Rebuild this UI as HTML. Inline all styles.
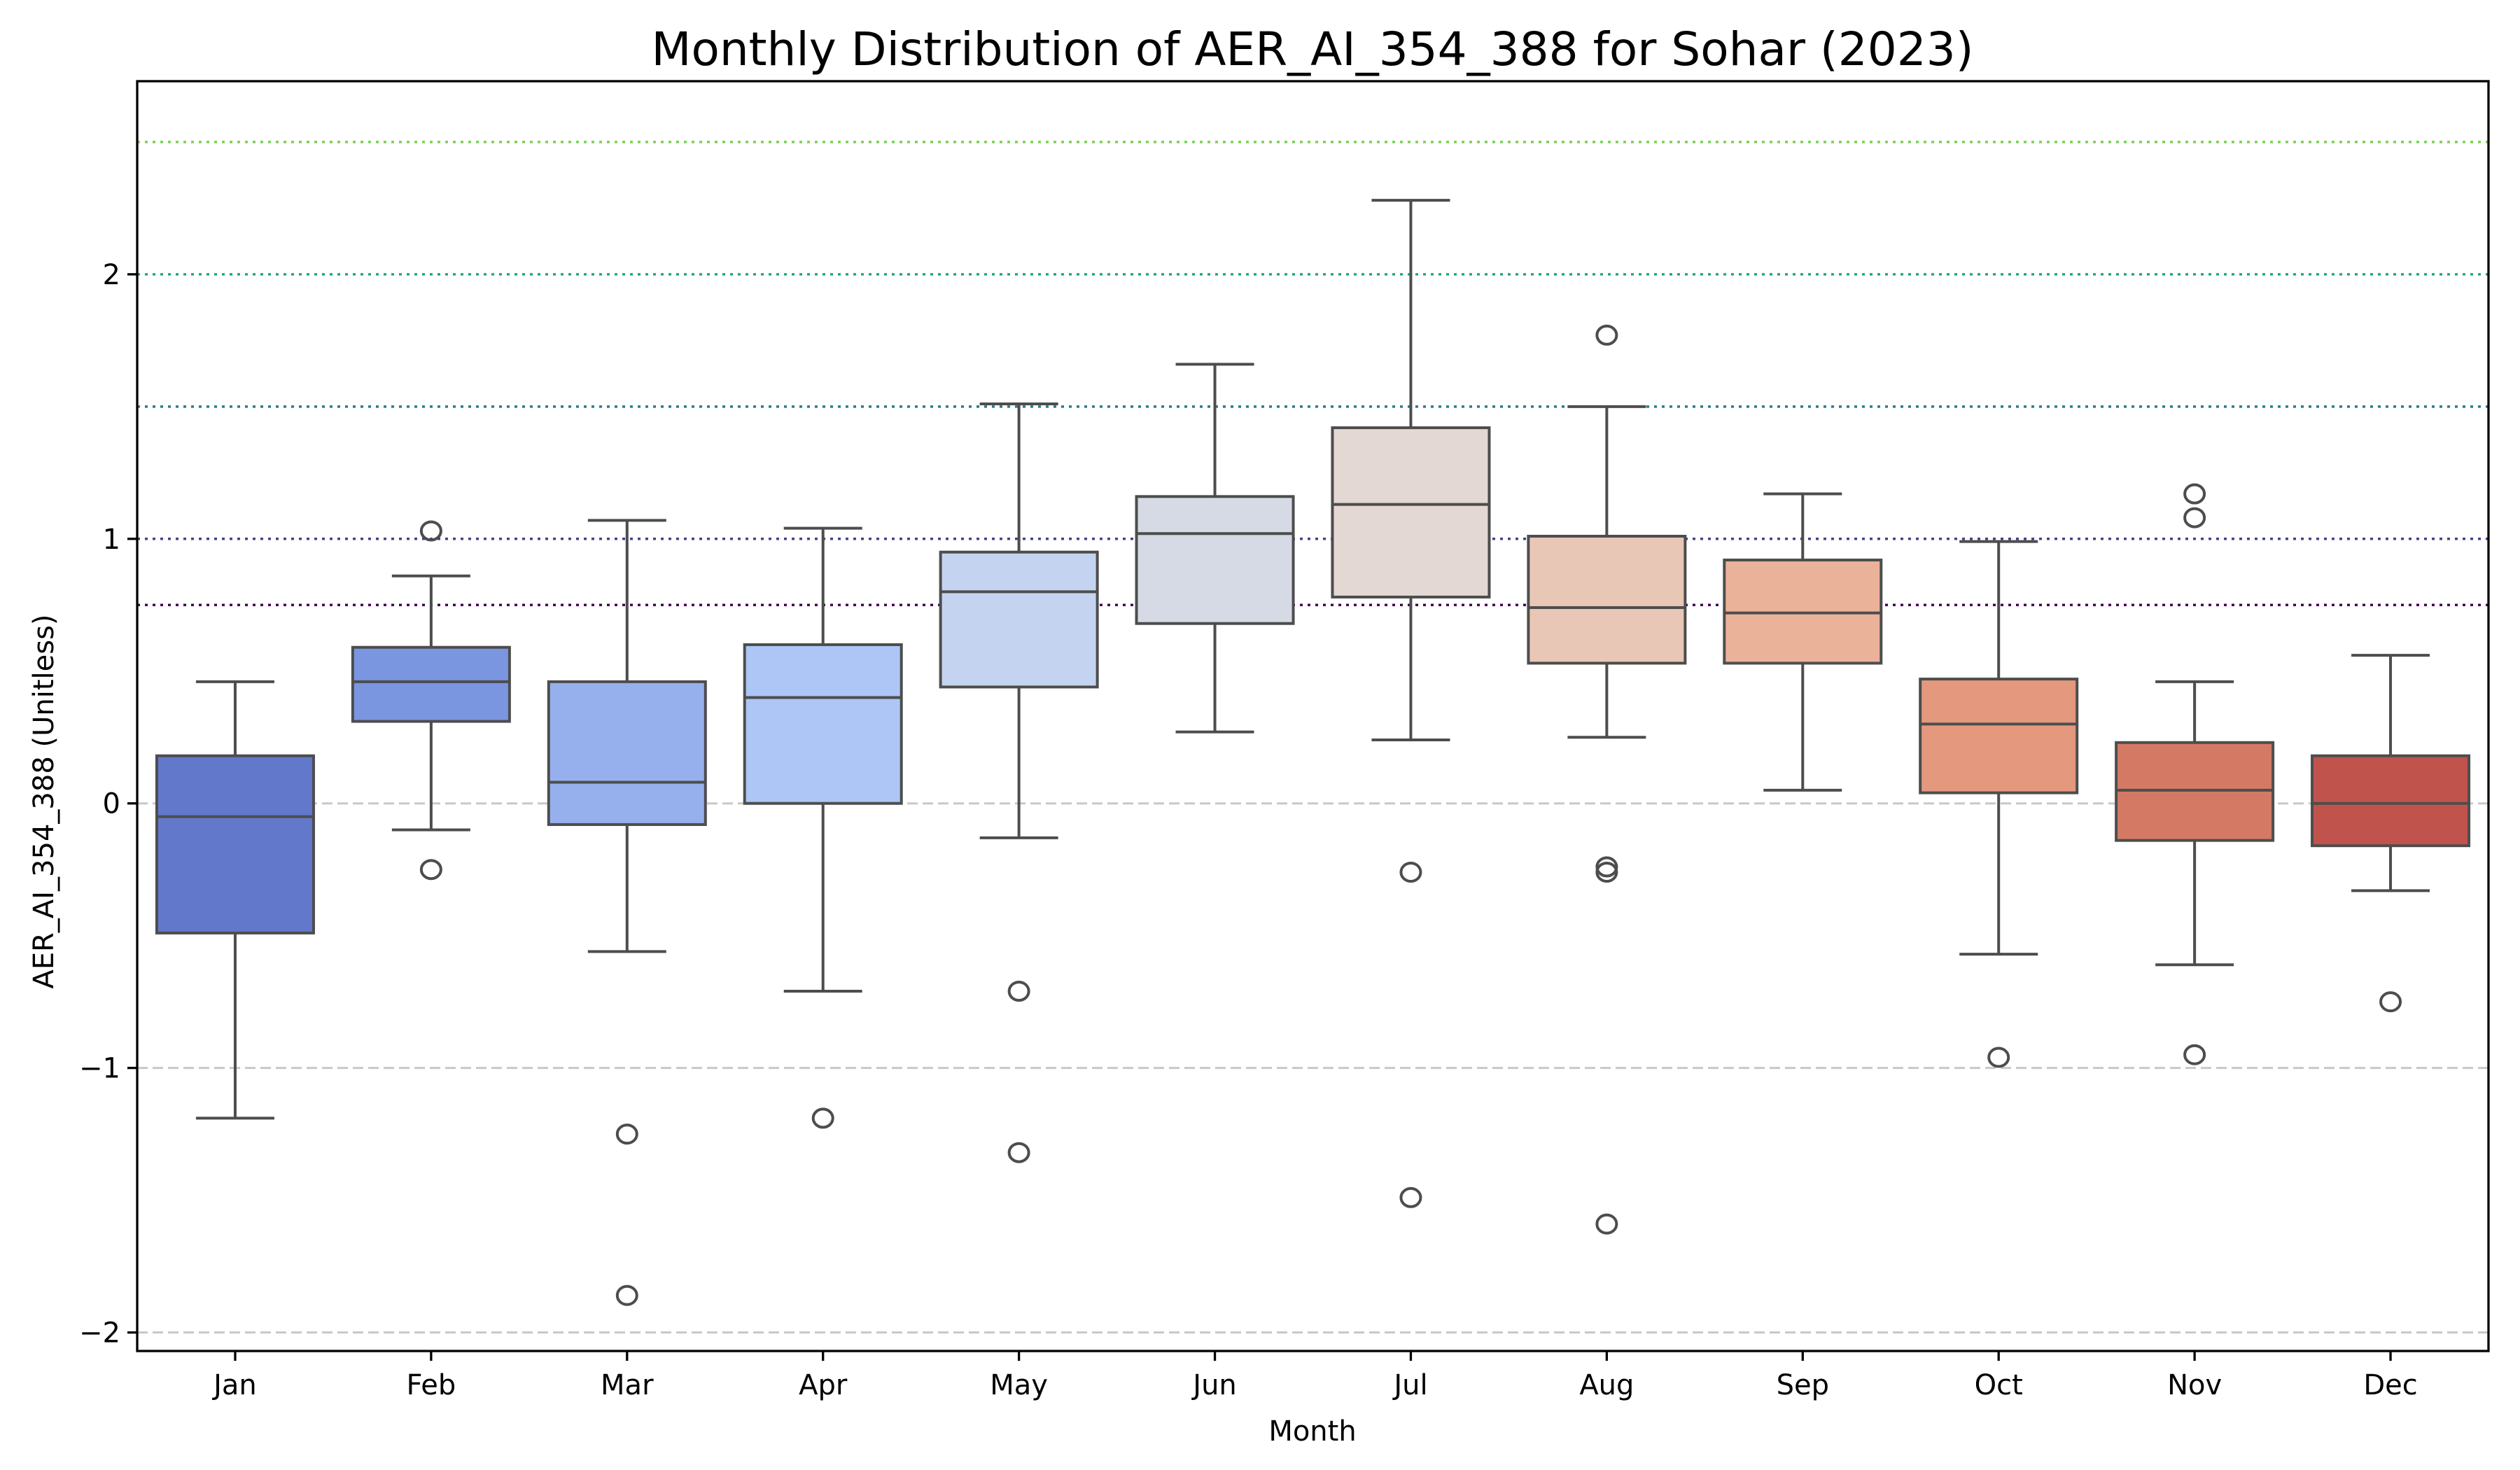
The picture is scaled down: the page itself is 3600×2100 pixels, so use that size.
<!DOCTYPE html>
<html><head><meta charset="utf-8"><style>
html,body{margin:0;padding:0;background:#fff;}
svg{display:block;font-family:"DejaVu Sans","Liberation Sans",sans-serif;}
</style></head><body>
<svg id="chart" width="3600" height="2100" viewBox="0 0 3600 2100" xmlns="http://www.w3.org/2000/svg">
<rect width="3600" height="2100" fill="#fff"/>
<g id="grid"></g>
<g id="boxes"></g>
<g id="axes"></g>
<text x="1875" y="93" font-size="66" text-anchor="middle" fill="#000">Monthly Distribution of AER_AI_354_388 for Sohar (2023)</text>
<text x="1875" y="2058" font-size="40" text-anchor="middle" fill="#000">Month</text>
<text transform="translate(76,1145) rotate(-90)" font-size="40" text-anchor="middle" fill="#000">AER_AI_354_388 (Unitless)</text>
</svg>
<script>
const months = ["Jan","Feb","Mar","Apr","May","Jun","Jul","Aug","Sep","Oct","Nov","Dec"];
const whiskerHigh = [0.46,0.86,1.07,1.04,1.51,1.66,2.28,1.50,1.17,0.99,0.46,0.56];
const q3 = [0.18,0.59,0.46,0.60,0.95,1.16,1.42,1.01,0.92,0.47,0.23,0.18];
const medians = [-0.05,0.46,0.08,0.40,0.80,1.02,1.13,0.74,0.72,0.30,0.05,0.00];
const q1 = [-0.49,0.31,-0.08,0.00,0.44,0.68,0.78,0.53,0.53,0.04,-0.14,-0.16];
const whiskerLow = [-1.19,-0.10,-0.56,-0.71,-0.13,0.27,0.24,0.25,0.05,-0.57,-0.61,-0.33];
const outliers = [[],[1.03,-0.25],[-1.25,-1.86],[-1.19],[-0.71,-1.32],[],[-0.26,-1.49],[1.77,-0.24,-0.26,-1.59],[],[-0.96],[1.17,1.08,-0.95],[-0.75]];
const boxColors = ["#6278cb","#7b96e0","#95b0ec","#adc6f6","#c4d4f0","#d5dae5","#e3d8d3","#e9c7b6","#ebb29a","#e4997e","#d47a64","#c0544d"];
const yTicks = [-2,-1,0,1,2];
const refValues = [2.5,2.0,1.5,1.0,0.75];
const refColors = ["#7ad151","#22a884","#2a788e","#414487","#440154"];
const grayValues = [0,-1,-2];

const NS="http://www.w3.org/2000/svg";
const L=196,R=3555,T=116,B=1930;
const yMin=-2.07,yMax=2.73;
const xs=i=>L+(i+0.5)*(R-L)/months.length;
const ys=v=>B-(v-yMin)/(yMax-yMin)*(B-T);
function mk(tag,attrs,parent){const e=document.createElementNS(NS,tag);for(const k in attrs)e.setAttribute(k,attrs[k]);parent.appendChild(e);return e;}
const grid=document.getElementById('grid'),boxes=document.getElementById('boxes'),axes=document.getElementById('axes');

grayValues.forEach(v=>{
  const l=mk('line',{x1:L,x2:R,y1:ys(v),y2:ys(v),stroke:'#c8c8c8','stroke-width':3,'stroke-dasharray':'15 7'},grid);
  
  
});
refValues.forEach((v,i)=>{
  const l=mk('line',{x1:L,x2:R,y1:ys(v),y2:ys(v),stroke:refColors[i],'stroke-width':3.5,'stroke-dasharray':'4 7'},grid);
  
  
});

const bw=224,cap=112,st='#4d4d4d',sw=4;
months.forEach((m,i)=>{
  const cx=xs(i);
  const g=mk('g',{},boxes);
  
  
  mk('line',{x1:cx,x2:cx,y1:ys(whiskerHigh[i]),y2:ys(q3[i]),stroke:st,'stroke-width':sw},g);
  mk('line',{x1:cx,x2:cx,y1:ys(q1[i]),y2:ys(whiskerLow[i]),stroke:st,'stroke-width':sw},g);
  mk('line',{x1:cx-cap/2,x2:cx+cap/2,y1:ys(whiskerHigh[i]),y2:ys(whiskerHigh[i]),stroke:st,'stroke-width':sw},g);
  mk('line',{x1:cx-cap/2,x2:cx+cap/2,y1:ys(whiskerLow[i]),y2:ys(whiskerLow[i]),stroke:st,'stroke-width':sw},g);
  mk('rect',{x:cx-bw/2,y:ys(q3[i]),width:bw,height:ys(q1[i])-ys(q3[i]),fill:boxColors[i],stroke:st,'stroke-width':sw},g);
  mk('line',{x1:cx-bw/2,x2:cx+bw/2,y1:ys(medians[i]),y2:ys(medians[i]),stroke:st,'stroke-width':sw},g);
  outliers[i].forEach(v=>{
    const c=mk('ellipse',{cx:cx,cy:ys(v),rx:14,ry:13,fill:'none',stroke:st,'stroke-width':4},g);
    
    
  });
  mk('line',{x1:cx,x2:cx,y1:B,y2:B+14,stroke:'#000','stroke-width':3.3},axes);
  const t=mk('text',{x:cx,y:B+62,'font-size':40,'text-anchor':'middle',fill:'#000'},axes);
  t.textContent=m;
  
  
});
yTicks.forEach(v=>{
  mk('line',{x1:L-14,x2:L,y1:ys(v),y2:ys(v),stroke:'#000','stroke-width':3.3},axes);
  const t=mk('text',{x:L-24,y:ys(v)+14,'font-size':40,'text-anchor':'end',fill:'#000'},axes);
  t.textContent=v<0?'\u2212'+Math.abs(v):String(v);
  
  
});
const frame=mk('rect',{x:L,y:T,width:R-L,height:B-T,fill:'none',stroke:'#000','stroke-width':3.3},axes);


</script>
</body></html>
